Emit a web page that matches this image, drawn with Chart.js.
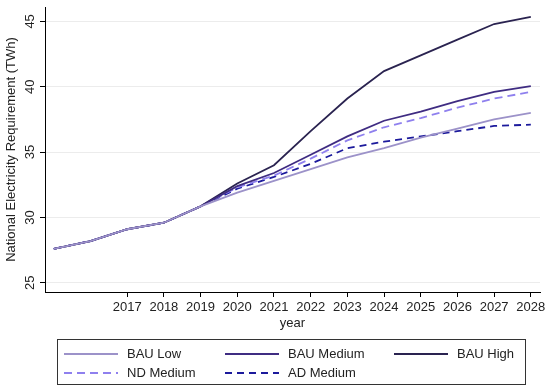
<!DOCTYPE html>
<html>
<head>
<meta charset="utf-8">
<script src="https://cdn.jsdelivr.net/npm/chart.js@4.4.1/dist/chart.umd.min.js"></script>
<style>
  body { margin: 0; background: #fff; }
  #wrap { position: relative; width: 550px; height: 390px; }
  #legendBox {
    position: absolute; left: 57px; top: 339px; width: 467px; height: 44px;
    border: 1px solid #333; font: 13px Arial, "Liberation Sans", sans-serif; color: #222;
  }
  .item { position: absolute; height: 16px; line-height: 16px; white-space: nowrap; }
  .item svg { position: absolute; left: 0; top: 2px; }
  .item span { position: absolute; left: 63px; top: 0; }
</style>
</head>
<body>
<div id="wrap">
  <canvas id="myChart" width="550" height="390"></canvas>
  <div id="legendBox"></div>
</div>
<script>
// years on the x axis
const years = [2015, 2016, 2017, 2018, 2019, 2020, 2021, 2022, 2023, 2024, 2025, 2026, 2027, 2028];
const xTicks = [2017, 2018, 2019, 2020, 2021, 2022, 2023, 2024, 2025, 2026, 2027, 2028];
const yTicks = [25, 30, 35, 40, 45];

const seriesNames = ['BAU Low', 'BAU Medium', 'BAU High', 'ND Medium', 'AD Medium'];
const bauLow    = [27.6, 28.2, 29.1, 29.6, 30.85, 31.9, 32.8, 33.7, 34.6, 35.3, 36.1, 36.8, 37.5, 38.0];
const bauMedium = [27.6, 28.2, 29.1, 29.6, 30.85, 32.4, 33.4, 34.8, 36.2, 37.4, 38.1, 38.9, 39.6, 40.05];
const bauHigh   = [27.6, 28.2, 29.1, 29.6, 30.85, 32.6, 34.0, 36.6, 39.1, 41.2, 42.4, 43.6, 44.8, 45.35];
const ndMedium  = [27.6, 28.2, 29.1, 29.6, 30.85, 32.3, 33.2, 34.5, 35.9, 36.9, 37.6, 38.4, 39.1, 39.6];
const adMedium  = [27.6, 28.2, 29.1, 29.6, 30.85, 32.2, 33.1, 34.1, 35.3, 35.8, 36.2, 36.6, 37.0, 37.1];

const colors = ['#9c92c9', '#3f2c82', '#2a2350', '#8f80ee', '#1c1a9c'];
const dashes = [[], [], [], [8, 5], [7, 5]];
const allValues = [bauLow, bauMedium, bauHigh, ndMedium, adMedium];

function toPoints(arr) {
  return arr.map((v, i) => ({x: years[i], y: v}));
}

const datasets = [];
for (let i = 0; i < seriesNames.length; i++) {
  datasets.push({
    label: seriesNames[i],
    data: toPoints(allValues[i]),
    borderColor: colors[i],
    borderWidth: 1.8,
    borderDash: dashes[i],
    pointRadius: 0,
    tension: 0,
    fill: false
  });
}

// rotated y tick labels like the original
const yTickLabels = {
  id: 'yTickLabels',
  afterDraw(chart) {
    const ctx = chart.ctx;
    const y = chart.scales.y;
    ctx.save();
    ctx.font = '13px Arial, "Liberation Sans", sans-serif';
    ctx.fillStyle = '#222';
    ctx.textAlign = 'center';
    ctx.textBaseline = 'middle';
    yTicks.forEach(v => {
      const py = y.getPixelForValue(v);
      ctx.save();
      ctx.translate(30, py);
      ctx.rotate(-Math.PI / 2);
      ctx.fillText(String(v), 0, 0);
      ctx.restore();
    });
    ctx.restore();
  }
};

const ctx = document.getElementById('myChart').getContext('2d');
const myChart = new Chart(ctx, {
  type: 'line',
  data: { datasets: datasets },
  options: {
    responsive: false,
    animation: false,
    layout: { padding: { left: 0, right: 10, top: 7, bottom: 59 } },
    plugins: { legend: { display: false }, tooltip: { enabled: false } },
    scales: {
      x: {
        type: 'linear',
        min: 2014.76,
        max: 2028.25,
        afterBuildTicks: (scale) => { scale.ticks = xTicks.map(v => ({value: v})); },
        afterFit: (scale) => { scale.height = 39; },
        grid: { drawOnChartArea: false, tickLength: 5, tickColor: '#000' },
        border: { color: '#000', width: 1 },
        ticks: {
          callback: (v) => String(v),
          color: '#222',
          padding: 3,
          maxRotation: 0,
          autoSkip: false,
          font: { family: 'Arial, "Liberation Sans", sans-serif', size: 13 }
        },
        title: {
          display: true,
          text: 'year',
          color: '#222',
          padding: 0,
          font: { family: 'Arial, "Liberation Sans", sans-serif', size: 13 }
        }
      },
      y: {
        min: 24.3,
        max: 46.1,
        afterBuildTicks: (scale) => { scale.ticks = yTicks.map(v => ({value: v})); },
        afterFit: (scale) => { scale.width = 45; },
        grid: { color: '#ececec', tickLength: 5, tickColor: '#000' },
        border: { color: '#000', width: 1 },
        ticks: { display: false },
        title: {
          display: true,
          text: 'National Electricity Requirement (TWh)',
          color: '#222',
          padding: { top: 4, bottom: 0 },
          font: { family: 'Arial, "Liberation Sans", sans-serif', size: 13 }
        }
      }
    }
  },
  plugins: [yTickLabels]
});

// legend box, three columns
const legendBox = document.getElementById('legendBox');
const colX = [6, 167, 336];
const rowY = [6, 25];
seriesNames.forEach((name, i) => {
  const item = document.createElement('div');
  item.className = 'item';
  item.style.left = colX[i % 3] + 'px';
  item.style.top = rowY[Math.floor(i / 3)] + 'px';
  const dash = dashes[i].length ? dashes[i].join(',') : 'none';
  item.innerHTML = '<svg width="56" height="12"><line x1="0" y1="6" x2="54" y2="6" stroke="' + colors[i] +
    '" stroke-width="2" stroke-dasharray="' + dash + '"/></svg><span>' + name + '</span>';
  legendBox.appendChild(item);
});
</script>
</body>
</html>
